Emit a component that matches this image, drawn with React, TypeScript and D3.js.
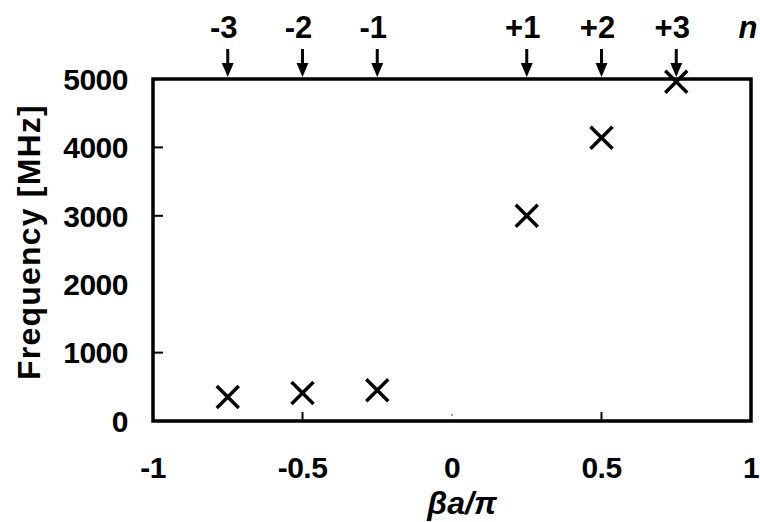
import React from "react";
import * as d3 from "d3";

// phase per cell (beta*a/pi) and measured frequency
const phase = [-0.75, -0.5, -0.25, 0.25, 0.5, 0.75];
const freqMHz = [350, 410, 450, 3000, 4140, 4960];
const harmonics = ["-3", "-2", "-1", "+1", "+2", "+3"];

const xTicks = [-1, -0.5, 0, 0.5, 1];
const xTickLabels = ["-1", "-0.5", "0", "0.5", "1"];
const yTicks = [0, 1000, 2000, 3000, 4000, 5000];
const xMarks = [-0.5, 0.5];
const yMarks = [1000, 3000, 4000];

const W = 760;
const H = 522;
const font = "'Liberation Sans', Arial, sans-serif";

export default function App() {
  const x = d3.scaleLinear().domain([-1, 1]).range([153, 751]);
  const y = d3.scaleLinear().domain([0, 5000]).range([421, 79]);
  const [x0, x1] = x.range();
  const [y0, y1] = y.range();
  const s = 11; // half size of the cross marker

  return (
    <svg
      width={W}
      height={H}
      style={{ position: "absolute", left: 0, top: 0, background: "#fff" }}
      fontFamily={font}
      fontWeight="bold"
    >
      {/* inner ticks */}
      {yMarks.map((v) => (
        <line key={"ym" + v} x1={x0} x2={x0 + 10} y1={y(v)} y2={y(v)} stroke="#000" strokeWidth={2} />
      ))}
      {xMarks.map((v) => (
        <line key={"xm" + v} x1={x(v)} x2={x(v)} y1={y0} y2={y0 - 9} stroke="#000" strokeWidth={2} />
      ))}
      <line x1={x(0)} x2={x(0)} y1={y0} y2={y0 - 9} stroke="#555" strokeWidth={1.2} strokeDasharray="2,3" />

      {/* frame */}
      <path
        d={`M${x0},${y0} L${x0},${y1} L${x1},${y1} L${x1},${y0} Z`}
        fill="none"
        stroke="#000"
        strokeWidth={3.5}
      />

      {/* y tick labels */}
      {yTicks.map((v) => (
        <text key={"yt" + v} x={128} y={y(v)} dy="0.36em" textAnchor="end" fontSize={30} letterSpacing={-0.5}>
          {v}
        </text>
      ))}
      {/* x tick labels */}
      {xTicks.map((v, i) => (
        <text key={"xt" + v} x={x(v)} y={478} textAnchor="middle" fontSize={30} letterSpacing={-0.5}>
          {xTickLabels[i]}
        </text>
      ))}

      {/* axis titles */}
      <text x={462} y={514} textAnchor="middle" fontSize={32} fontStyle="italic">
        βa/π
      </text>
      <text
        transform={`translate(40,242) rotate(-90)`}
        textAnchor="middle"
        fontSize={32}
        letterSpacing={1.2}
      >
        Frequency [MHz]
      </text>

      {/* harmonic arrows */}
      {phase.map((p, i) => (
        <g key={"h" + i}>
          <text x={x(p) - 4} y={38} textAnchor="middle" fontSize={31}>
            {harmonics[i]}
          </text>
          <line x1={x(p)} x2={x(p)} y1={49} y2={66} stroke="#000" strokeWidth={3} />
          <path d={`M${x(p) - 6},${63} L${x(p) + 6},${63} L${x(p)},${77} Z`} fill="#000" />
        </g>
      ))}
      <text x={748} y={38} textAnchor="middle" fontSize={31} fontStyle="italic">
        n
      </text>

      {/* data crosses */}
      {phase.map((p, i) => {
        const cx = x(p);
        const cy = y(freqMHz[i]);
        return (
          <path
            key={"d" + i}
            d={`M${cx - s},${cy - s} L${cx + s},${cy + s} M${cx - s},${cy + s} L${cx + s},${cy - s}`}
            stroke="#000"
            strokeWidth={3.5}
          />
        );
      })}
    </svg>
  );
}
